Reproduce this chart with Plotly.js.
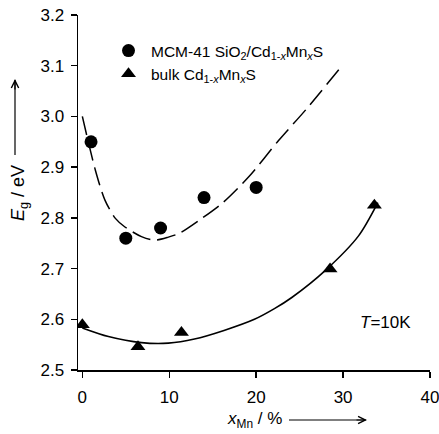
<!DOCTYPE html>
<html><head><meta charset="utf-8">
<script src="https://cdn.plot.ly/plotly-3.0.1.min.js"></script>
<style>html,body{margin:0;padding:0;background:#fff}#c{width:439px;height:434px}</style>
</head><body><div id="c"></div>
<script>
// Measured points
const mcmX = [1, 5, 9, 14, 20];
const mcmY = [2.95, 2.76, 2.78, 2.84, 2.86];
const bulkX = [0, 6.4, 11.4, 28.5, 33.6];
const bulkY = [2.589, 2.546, 2.574, 2.699, 2.825];
// Fit curves
const mcmFitX = [0, 1.5, 2.6, 3.8, 4.9, 6.8, 8.3, 9.9, 11.2, 13.5, 16.1, 19.2, 22.6, 25.7, 29.5];
const mcmFitY = [3.0, 2.894, 2.835, 2.799, 2.782, 2.763, 2.756, 2.762, 2.770, 2.796, 2.829, 2.882, 2.953, 3.013, 3.092];
const bulkFitX = [0, 3.0, 6.8, 9.9, 12.9, 16.3, 19.8, 22.1, 24.1, 28.0, 31.8, 34];
const bulkFitY = [2.583, 2.566, 2.554, 2.553, 2.561, 2.578, 2.600, 2.621, 2.643, 2.697, 2.765, 2.83];
const xTicks = [0, 10, 20, 30, 40];
const yTicks = [2.5, 2.6, 2.7, 2.8, 2.9, 3.0, 3.1, 3.2];
const yTickText = ['2.5', '2.6', '2.7', '2.8', '2.9', '3.0', '3.1', '3.2'];

const font = 'Liberation Sans, Arial, Helvetica, sans-serif';

const traces = [
  {x: mcmFitX, y: mcmFitY, mode: 'lines', line: {color: '#000', width: 1.5, dash: '19px,7px', shape: 'spline', smoothing: 0.8}, showlegend: false, hoverinfo: 'skip'},
  {x: bulkFitX, y: bulkFitY, mode: 'lines', line: {color: '#000', width: 1.6, shape: 'spline', smoothing: 0.8}, showlegend: false, hoverinfo: 'skip'},
  {x: mcmX, y: mcmY, mode: 'markers', name: 'MCM-41 SiO<sub>2</sub>/Cd<sub>1-<i>x</i></sub>Mn<sub><i>x</i></sub>S',
   marker: {symbol: 'circle', size: 13, color: '#000'}},
  {x: bulkX, y: bulkY, mode: 'markers', name: 'bulk Cd<sub>1-<i>x</i></sub>Mn<sub><i>x</i></sub>S',
   marker: {symbol: 'triangle-up', size: 13, color: '#000'}}
];

const L = 78, T = 15, W = 352, H = 355;
const px = v => (v - L) / W;
const py = v => (T + H - v) / H;

const layout = {
  width: 439, height: 434,
  margin: {l: L, r: 439 - L - W, t: T, b: 434 - T - H},
  paper_bgcolor: '#fff', plot_bgcolor: '#fff',
  font: {family: font, size: 17, color: '#000'},
  showlegend: true,
  legend: {x: px(106), y: py(34), xanchor: 'left', yanchor: 'top', bgcolor: 'rgba(0,0,0,0)',
           font: {family: font, size: 15.5, color: '#000'}, itemsizing: 'trace', itemwidth: 35},
  xaxis: {range: [-0.5, 40], tickvals: xTicks, ticktext: xTicks.map(String), ticks: 'outside', ticklen: 6,
          tickwidth: 1.5, tickcolor: '#000', showline: true, linecolor: '#000', linewidth: 1.5,
          showgrid: false, zeroline: false, tickfont: {size: 17}, ticklabelstandoff: 5,
          ticklabeloverflow: 'allow'},
  yaxis: {range: [2.5, 3.2], tickvals: yTicks, ticktext: yTickText, ticks: 'outside', ticklen: 6,
          tickwidth: 1.5, tickcolor: '#000', showline: true, linecolor: '#000', linewidth: 1.5,
          showgrid: false, zeroline: false, tickfont: {size: 17}, ticklabelstandoff: 3,
          ticklabeloverflow: 'allow'},
  shapes: [
    {type: 'line', xref: 'paper', yref: 'paper', x0: px(15), x1: px(15), y0: py(155), y1: py(80),
     line: {color: '#000', width: 1.2}},
    {type: 'line', xref: 'paper', yref: 'paper', x0: px(289), x1: px(366), y0: py(420), y1: py(420),
     line: {color: '#000', width: 1.2}}
  ],
  annotations: [
    {xref: 'paper', yref: 'paper', x: px(19), y: py(193), text: '<i>E</i><sub>g</sub> / eV', textangle: -90,
     showarrow: false, xanchor: 'center', yanchor: 'middle', font: {size: 18}},
    {xref: 'paper', yref: 'paper', x: px(15), y: py(79), text: '', showarrow: true, ax: 0, ay: 12,
     arrowhead: 5, arrowsize: 1.2, arrowwidth: 1.2, arrowcolor: '#000', standoff: 0},
    {xref: 'paper', yref: 'paper', x: px(254), y: py(420), text: '<i>x</i><sub>Mn</sub> / %',
     showarrow: false, xanchor: 'center', yanchor: 'middle', font: {size: 17}},
    {xref: 'paper', yref: 'paper', x: px(367), y: py(420), text: '', showarrow: true, ax: -12, ay: 0,
     arrowhead: 5, arrowsize: 1.2, arrowwidth: 1.2, arrowcolor: '#000', standoff: 0},
    {xref: 'paper', yref: 'paper', x: px(385), y: py(322), text: '<i>T</i>=10K',
     showarrow: false, xanchor: 'center', yanchor: 'middle', font: {size: 17}}
  ]
};

Plotly.newPlot('c', traces, layout, {displayModeBar: false, staticPlot: true});
</script></body></html>
